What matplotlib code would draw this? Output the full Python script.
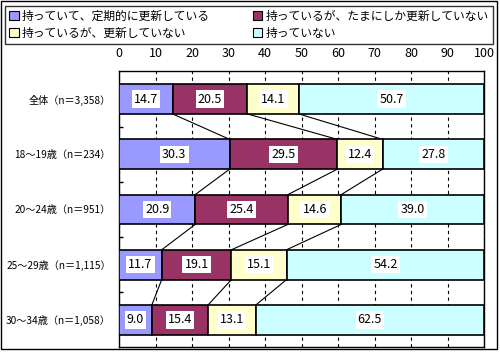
import matplotlib.pyplot as plt
import numpy as np
from matplotlib.patches import Patch, Rectangle

plt.rcParams['font.family'] = ['Noto Sans CJK JP', 'DejaVu Sans']

# データ
categories = ['全体（n＝3,358）', '18～19歳（n＝234）', '20～24歳（n＝951）',
              '25～29歳（n＝1,115）', '30～34歳（n＝1,058）']
series_names = ['持っていて、定期的に更新している', '持っているが、たまにしか更新していない',
                '持っているが、更新していない', '持っていない']
regular = [14.7, 30.3, 20.9, 11.7, 9.0]
sometimes = [20.5, 29.5, 25.4, 19.1, 15.4]
not_updated = [14.1, 12.4, 14.6, 15.1, 13.1]
not_have = [50.7, 27.8, 39.0, 54.2, 62.5]
colors = ['#9999FF', '#993366', '#FFFFCC', '#CCFFFF']

values = np.array([regular, sometimes, not_updated, not_have])
y = np.arange(len(categories))
bar_h = 0.54

fig = plt.figure(figsize=(5, 3.53), dpi=100)
ax = fig.add_axes([0.238, 0.0156, 0.73, 0.782])

left = np.zeros(len(categories))
for vals, col in zip(values, colors):
    ax.barh(y, vals, left=left, height=bar_h, color=col, edgecolor='black',
            linewidth=1.2, zorder=3)
    for yi, (l, v) in enumerate(zip(left, vals)):
        ax.text(l + v / 2, yi, f'{v:.1f}', ha='center', va='center', fontsize=9,
                zorder=5, bbox=dict(facecolor='white', edgecolor='none', pad=1.5))
    left = left + vals

# 区分線
cum = np.cumsum(values, axis=0)
for i in range(len(categories) - 1):
    for k in range(3):
        ax.plot([cum[k, i], cum[k, i + 1]], [i + bar_h / 2, i + 1 - bar_h / 2],
                color='black', linewidth=0.8, zorder=2)

ax.set_xlim(0, 100)
ax.set_ylim(len(categories) - 0.5, -0.5)
ax.xaxis.tick_top()
ax.set_xticks(np.arange(0, 101, 10))
ax.tick_params(axis='x', length=0, labelsize=9, pad=8)
ax.set_yticks(y)
ax.set_yticklabels(categories, fontsize=7.3)
ax.tick_params(axis='y', which='major', length=0, pad=6)
ax.set_yticks(np.arange(0.5, len(categories) - 0.5, 1), minor=True)
ax.tick_params(axis='y', which='minor', direction='in', length=3, width=1)
ax.grid(axis='x', color='black', linestyle=(0, (3, 3)), linewidth=0.8, zorder=0)
for s in ax.spines.values():
    s.set_linewidth(1.0)

handles = [Patch(facecolor=c, edgecolor='black', linewidth=0.8) for c in colors]
order = [0, 2, 1, 3]
fig.legend([handles[i] for i in order], [series_names[i] for i in order],
           ncol=2, loc='lower left', bbox_to_anchor=(0.01, 0.875, 0.976, 0.114),
           mode='expand', fontsize=8.5, frameon=True, fancybox=False,
           edgecolor='black', handlelength=0.8, handleheight=0.8, handletextpad=0.3,
           borderaxespad=0, borderpad=0.35, labelspacing=0.35, columnspacing=1.0)
fig.legends[0].get_frame().set_linewidth(1.0)

# 外枠
fig.patches.append(Rectangle((0.002, 0.011), 0.992, 0.986, transform=fig.transFigure,
                             fill=False, edgecolor='black', linewidth=1.0))

fig.savefig('out.png', dpi=100)
